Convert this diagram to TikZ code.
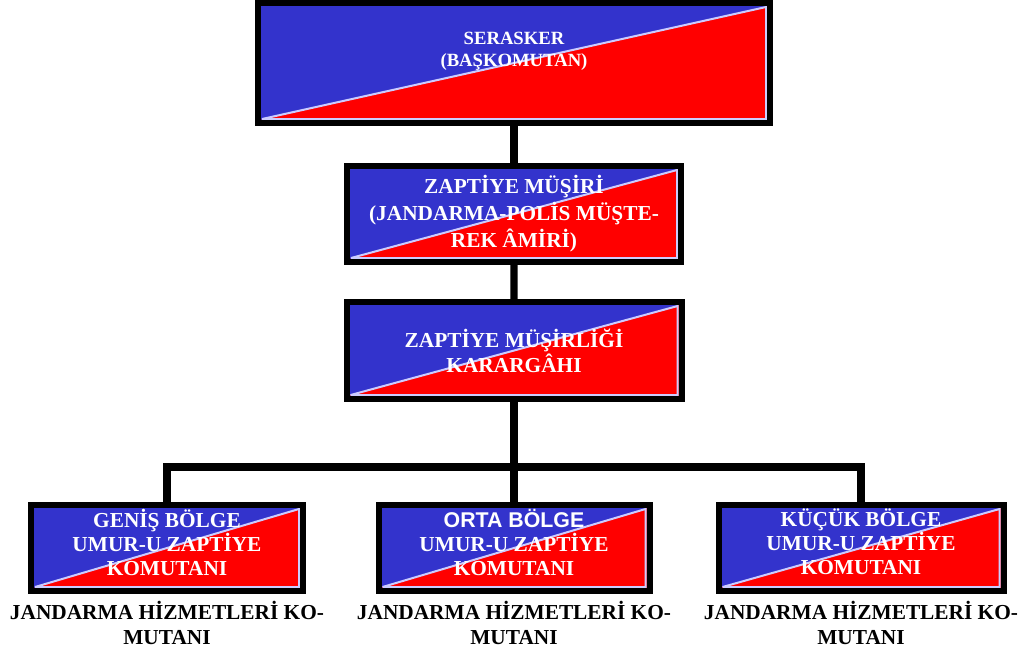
\documentclass[tikz,border=0pt]{standalone}
\usepackage{fontspec}
\setmainfont{Liberation Serif}
\newfontfamily\zsans{Liberation Sans}
\usetikzlibrary{positioning}
\definecolor{zblue}{RGB}{51,51,204}
\definecolor{zred}{RGB}{255,0,0}
\definecolor{zlav}{RGB}{204,204,255}
\begin{document}
\begin{tikzpicture}[
        x=0.75pt, y=0.75pt,
        zbox/.style={draw, line width=4.5pt, text=white, align=center, inner sep=0pt,
            font=\bfseries\fontsize{16pt}{18pt}\selectfont,
            path picture={
                \fill[zred] (path picture bounding box.south west) rectangle (path picture bounding box.north east);
                \path ([shift={(3pt,3pt)}]path picture bounding box.south west) coordinate (zsw)
                      ([shift={(-3pt,-3pt)}]path picture bounding box.north east) coordinate (zne);
                \fill[zblue] (path picture bounding box.south west) -- (zsw) -- (zne)
                      -- (path picture bounding box.north east) -- (path picture bounding box.north west) -- cycle;
                \draw[zlav, line width=1.5pt] (zsw) -- (zne) |- (zsw);
            }},
        zlabel/.style={align=center, inner sep=0pt, font=\bfseries\fontsize{16pt}{18.75pt}\selectfont},
        edge from parent/.style={draw, line width=5.6pt},
        level 1/.style={level distance=113.25pt},
        level 2/.style={level distance=102.4pt},
        level 3/.style={level distance=148.1pt, sibling distance=260.25pt,
            edge from parent path={(\tikzparentnode.south) -- ++(0,-65) -| (\tikzchildnode.north)}},
    ]
    \useasboundingbox (0,0) rectangle (1031,-657);
    \node[zbox, minimum width=384pt, minimum height=90pt,
          font=\bfseries\fontsize{14pt}{16.5pt}\selectfont](serasker) at (514,-63)
        {SERASKER\\(BAŞKOMUTAN)\rule[-20pt]{0pt}{20pt}}
    child{node[zbox, minimum width=250.5pt, minimum height=72pt,
               font=\bfseries\fontsize{16pt}{20.25pt}\selectfont](musir)
        {ZAPTİYE MÜŞİRİ\\(JANDARMA-POLİS MÜŞTE-\\REK ÂMİRİ)}
        child{node[zbox, minimum width=251.25pt, minimum height=72.75pt,
                   font=\bfseries\fontsize{16pt}{18.75pt}\selectfont](karargah)
            {ZAPTİYE MÜŞİRLİĞİ\\KARARGÂHI}
            child{node[zbox, minimum width=204pt, minimum height=64.5pt](genis)
                {GENİŞ BÖLGE\\UMUR-U ZAPTİYE\\KOMUTANI\rule[-9pt]{0pt}{9pt}}}
            child{node[zbox, minimum width=203.25pt, minimum height=64.5pt](orta)
                {{\zsans ORTA BÖLGE}\\UMUR-U ZAPTİYE\\KOMUTANI\rule[-9pt]{0pt}{9pt}}}
            child{node[zbox, minimum width=213.75pt, minimum height=64.5pt](kucuk)
                {KÜÇÜK BÖLGE\\UMUR-U ZAPTİYE\\KOMUTANI\rule[-9pt]{0pt}{9pt}}}
        }
    }
    ;
    \node[zlabel, below=5.5pt of genis](genislbl){JANDARMA HİZMETLERİ KO-\\MUTANI};
    \node[zlabel, below=5.5pt of orta](ortalbl){JANDARMA HİZMETLERİ KO-\\MUTANI};
    \node[zlabel, below=5.5pt of kucuk](kucuklbl){JANDARMA HİZMETLERİ KO-\\MUTANI};
\end{tikzpicture}
\end{document}
